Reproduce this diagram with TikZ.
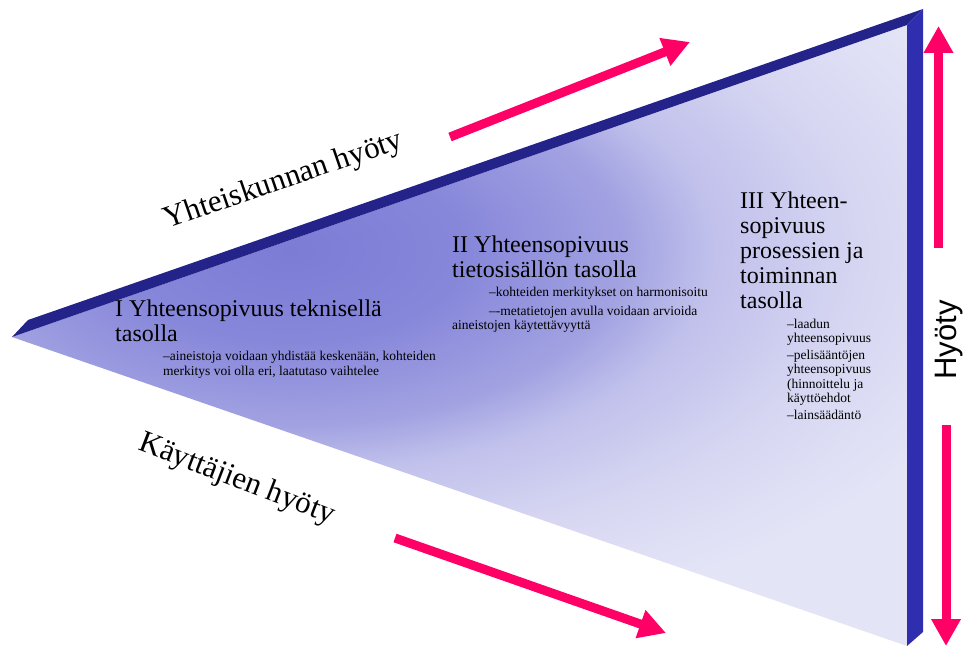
\documentclass[tikz,border=0pt]{standalone}
\usepackage{fontspec}
\setmainfont{Liberation Serif}
\newfontfamily\arialfont{Liberation Sans}
\usetikzlibrary{arrows.meta}
\definecolor{topface}{HTML}{23238A}
\definecolor{sideface}{HTML}{2E2EAE}
\definecolor{pinkarrow}{HTML}{FF0066}
\definecolor{fcA}{RGB}{124,124,214}
\definecolor{fcB}{RGB}{134,134,218}
\definecolor{fcC}{RGB}{162,162,226}
\definecolor{fcD}{RGB}{192,192,236}
\definecolor{fcE}{RGB}{214,214,242}
\definecolor{fcF}{RGB}{228,228,247}
\pgfdeclareradialshading{facesh}{\pgfpoint{0bp}{0bp}}{color(0bp)=(fcA); color(5bp)=(fcB); color(10bp)=(fcC); color(12.5bp)=(fcD); color(17bp)=(fcE); color(22bp)=(fcF); color(50bp)=(fcF)}
\begin{document}
\begin{tikzpicture}[x=1pt,y=-1pt,
  bigtxt/.style={anchor=base west, inner sep=0pt, font=\fontsize{24}{25}\selectfont},
  smalltxt/.style={anchor=base west, inner sep=0pt, font=\fontsize{13.5}{14.5}\selectfont},
  sidetxt/.style={anchor=base, inner sep=0pt, font=\fontsize{31}{33}\selectfont},
  benefit/.style={pinkarrow, line width=9pt, -{Triangle[length=27pt,width=28pt]}}]
\useasboundingbox (0,0) rectangle (965,647);
% corners of the wedge
\coordinate (tip) at (12,337);
\coordinate (tipo) at (28,320);
\coordinate (tro) at (923,9);
\coordinate (tri) at (907,25);
\coordinate (bri) at (907,646);
\coordinate (bro) at (923,632);
% main face
\begin{scope}
  \clip (tip) -- (tri) -- (bri) -- cycle;
  \shade[shading=facesh] (-550,-190) rectangle (1130,690);
\end{scope}
% top bevel and right side
\fill[topface] (tip) -- (tipo) -- (tro) -- (tri) -- cycle;
\fill[sideface] (tri) -- (tro) -- (bro) -- (bri) -- cycle;
% arrows
\coordinate (a1s) at (450,137);
\coordinate (a1e) at (690,42);
\coordinate (a2s) at (395,538);
\coordinate (a2e) at (666,633);
\coordinate (a3s) at (938.5,248);
\coordinate (a3e) at (938.5,26);
\coordinate (a4s) at (946,425);
\coordinate (a4e) at (946,646);
\draw[benefit] (a1s) -- (a1e);
\draw[benefit] (a2s) -- (a2e);
\draw[benefit] (a3s) -- (a3e);
\draw[benefit] (a4s) -- (a4e);
% side labels
\node[sidetxt, rotate=19] (yhteis) at (286,188) {Yhteiskunnan hyöty};
\node[sidetxt, rotate=-21] (kayttajat) at (234,487) {Käyttäjien hyöty};
\node[anchor=base, inner sep=0pt, rotate=90, font=\arialfont\fontsize{31}{33}\selectfont] (hyoty) at (956,340) {Hyöty};
% block I
\node[bigtxt] (b1a) at (115,316) {I Yhteensopivuus teknisellä};
\node[bigtxt] (b1b) at (115,341) {tasolla};
\node[smalltxt] (s1a) at (163,360.5) {–aineistoja voidaan yhdistää keskenään, kohteiden};
\node[smalltxt] (s1b) at (163,375) {merkitys voi olla eri, laatutaso vaihtelee};
% block II
\node[bigtxt] (b2a) at (452,252) {II Yhteensopivuus};
\node[bigtxt] (b2b) at (452,277) {tietosisällön tasolla};
\node[smalltxt] (s2a) at (489,296.5) {–kohteiden merkitykset on harmonisoitu};
\node[smalltxt] (s2b) at (489,315.5) {–-metatietojen avulla voidaan arvioida};
\node[smalltxt] (s2c) at (452,329.5) {aineistojen käytettävyyttä};
% block III
\node[bigtxt] (b3a) at (740,208) {III Yhteen-};
\node[bigtxt] (b3b) at (740,233) {sopivuus};
\node[bigtxt] (b3c) at (740,258) {prosessien ja};
\node[bigtxt] (b3d) at (740,283) {toiminnan};
\node[bigtxt] (b3e) at (740,308) {tasolla};
\node[smalltxt] (s3a) at (787,328) {–laadun};
\node[smalltxt] (s3b) at (787,342.5) {yhteensopivuus};
\node[smalltxt] (s3c) at (787,359) {–pelisääntöjen};
\node[smalltxt] (s3d) at (787,373.5) {yhteensopivuus};
\node[smalltxt] (s3e) at (787,388) {(hinnoittelu ja};
\node[smalltxt] (s3f) at (787,402.5) {käyttöehdot};
\node[smalltxt] (s3g) at (787,419) {–lainsäädäntö};
\end{tikzpicture}
\end{document}
